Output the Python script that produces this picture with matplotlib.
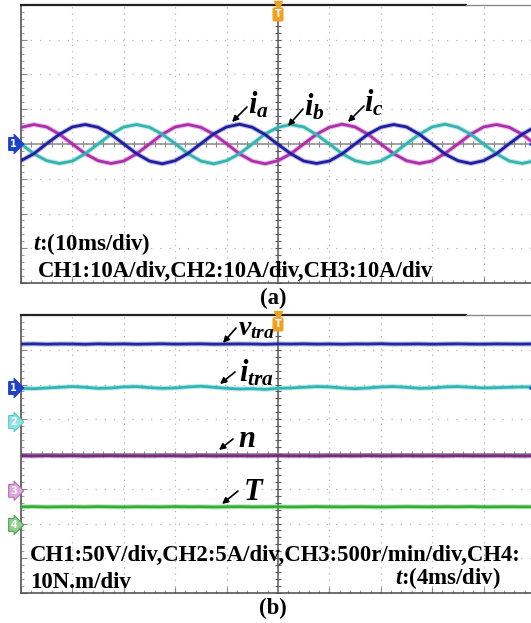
import numpy as np
import matplotlib
matplotlib.use('Agg')
import matplotlib.pyplot as plt
from matplotlib.transforms import blended_transform_factory

plt.rcParams['mathtext.fontset'] = 'custom'
plt.rcParams['mathtext.it'] = 'Liberation Serif:italic:bold'
plt.rcParams['mathtext.rm'] = 'Liberation Serif:bold'
plt.rcParams['mathtext.bf'] = 'Liberation Serif:bold'

W, H = 531, 623

# ---------------- Data: panel (a) phase currents (A), time in ms ----------------
t_a = [0, 2.5, 5, 7.5, 10, 12.5, 15, 17.5, 20, 22.5,
       25, 27.5, 30, 32.5, 35, 37.5, 40, 42.5, 45, 47.5,
       50, 52.5, 55, 57.5, 60, 62.5, 65, 67.5, 70, 72.5,
       75, 77.5, 80, 82.5, 85, 87.5, 90, 92.5, 95, 97.5, 100]
i_a = [-4.8, -2.8, 0.1, 2.8, 4.9, 5.6, 4.8, 2.8, 0.0, -2.8, -4.9, -5.7,
       -4.8, -2.7, 0.1, 2.9, 4.9, 5.7, 4.8, 2.7, -0.1, -2.8, -4.9, -5.6,
       -4.9, -2.8, 0.0, 2.8, 4.8, 5.6, 4.9, 2.8, 0.0, -2.9, -4.8, -5.6,
       -4.8, -2.8, 0.1, 2.8, 4.9]
i_b = [0.0, -2.8, -4.8, -5.6, -4.9, -2.8, 0.0, 2.8, 4.9, 5.6, 4.8, 2.8,
       0.1, -2.8, -4.9, -5.7, -4.8, -2.8, 0.0, 2.9, 4.8, 5.6, 4.9, 2.7,
       0.0, -2.8, -4.8, -5.6, -4.9, -2.8, 0.1, 2.8, 4.9, 5.7, 4.8, 2.8,
       0.0, -2.8, -4.9, -5.6, -4.8]
i_c = [4.8, 5.6, 4.9, 2.8, 0.0, -2.8, -4.8, -5.6, -4.9, -2.8, 0.0, 2.8,
       4.9, 5.6, 4.8, 2.8, 0.1, -2.8, -4.9, -5.7, -4.8, -2.8, 0.0, 2.8,
       4.8, 5.7, 4.9, 2.8, 0.0, -2.8, -4.8, -5.6, -4.9, -2.7, 0.0, 2.8,
       4.9, 5.6, 4.8, 2.8, 0.0]

# ---------------- Data: panel (b), time in ms ----------------
t_b = [0, 1, 2, 3, 4, 5, 6, 7, 8, 9,
       10, 11, 12, 13, 14, 15, 16, 17, 18, 19,
       20, 21, 22, 23, 24, 25, 26, 27, 28, 29,
       30, 31, 32, 33, 34, 35, 36, 37, 38, 39, 40]
v_tra = [63.2, 63.5, 63.0, 63.4, 63.3, 62.9, 63.5, 63.2, 63.4, 63.0,
         63.3, 63.6, 63.1, 63.3, 63.5, 63.0, 63.2, 63.4, 63.3, 62.9,
         63.4, 63.2, 63.5, 63.1, 63.3, 63.0, 63.4, 63.3, 63.6, 63.1,
         63.2, 63.4, 63.0, 63.3, 63.5, 63.2, 63.1, 63.4, 63.3, 63.2, 63.4]
i_tra = [4.85, 4.8, 4.9, 5.0, 5.1, 5.0, 4.85, 4.9, 5.05, 5.1,
         4.95, 4.85, 4.9, 5.05, 5.15, 5.0, 4.85, 4.75, 4.8, 4.7,
         4.85, 4.9, 5.0, 5.1, 5.05, 4.9, 4.8, 4.9, 5.05, 5.1,
         5.0, 4.85, 4.9, 5.05, 5.1, 5.0, 4.9, 4.95, 5.0, 5.05, 5.05]
speed_n = [503, 501, 505, 502, 504, 500, 503, 505, 502, 503,
           501, 504, 503, 500, 505, 502, 503, 504, 501, 503,
           505, 502, 503, 500, 504, 503, 502, 505, 501, 503,
           504, 502, 503, 501, 505, 503, 502, 504, 503, 501, 503]
torque_T = [5.2, 5.25, 5.15, 5.2, 5.22, 5.18, 5.25, 5.2, 5.15, 5.22,
            5.2, 5.18, 5.25, 5.2, 5.22, 5.15, 5.2, 5.24, 5.18, 5.2,
            5.22, 5.16, 5.2, 5.25, 5.2, 5.18, 5.22, 5.2, 5.15, 5.2,
            5.24, 5.2, 5.18, 5.22, 5.2, 5.25, 5.18, 5.2, 5.22, 5.2, 5.2]

# channel settings for (b): scale per division and ground offsets (div)
scale_b = {'CH1': 50, 'CH2': 5, 'CH3': 500, 'CH4': 10}
ground_b = {'CH1': 1.9, 'CH2': 0.92, 'CH3': -1.06, 'CH4': -2.04}

fig = plt.figure(figsize=(W / 100, H / 100), dpi=100)


def fpx(x, y):
    return (x, H - y)


def scope_frame(ax):
    x0, x1 = ax.get_xlim()
    y0, y1 = ax.get_ylim()
    xs = np.linspace(x0, x1, 11)
    ys = np.linspace(y0, y1, 9)
    for x in xs[1:-1]:
        ax.axvline(x, color='#b4b4b4', lw=0.9, ls=(0, (1, 4)), zorder=0)
    for y in ys[1:-1]:
        ax.axhline(y, color='#b4b4b4', lw=0.9, ls=(0, (1, 6.4)), zorder=0)
    xc = 0.5 * (x0 + x1)
    yc = 0.5 * (y0 + y1)
    ax.axvline(xc, color='#5a5a5a', lw=1.1, zorder=1)
    ax.axhline(yc, color='#8a8a8a', lw=1.1, zorder=1)
    mx = np.linspace(x0, x1, 51)
    my = np.linspace(y0, y1, 41)
    ax.plot(mx, np.full_like(mx, yc), ls='none', marker='|', ms=5, mew=0.8, color='#8a8a8a', zorder=1)
    ax.plot(np.full_like(my, xc), my, ls='none', marker='_', ms=5, mew=0.8, color='#5a5a5a', zorder=1)
    for s in ['left', 'bottom']:
        ax.spines[s].set_color('#555555')
        ax.spines[s].set_linewidth(1.2)
    ax.spines['right'].set_visible(False)
    ax.spines['top'].set_visible(False)
    ax.axhline(y1, xmin=0, xmax=0.865, color='#222222', lw=1.6, clip_on=False, zorder=3)
    ax.axhline(y1, xmin=0.865, xmax=1, color='#888888', lw=1.0, clip_on=False, zorder=3)
    ax.set_xticks(xs)
    ax.set_yticks(ys)
    ax.set_xticks(mx, minor=True)
    ax.set_yticks(my, minor=True)
    ax.tick_params(which='both', direction='in', labelbottom=False, labelleft=False,
                   top=False, right=False, color='#888888')
    ax.tick_params(which='major', length=4)
    ax.tick_params(which='minor', length=2.5)
    # trigger marker
    ax.plot([xc], [y1], marker='v', ms=6, color='#f0a020', clip_on=False, zorder=6)
    ax.text(xc, y1 - (y1 - y0) * 0.016, 'T', ha='center', va='top', fontsize=7,
            color='white', fontweight='bold', zorder=7,
            bbox=dict(boxstyle='round,pad=0.15', fc='#f0a020', ec='#f0a020'))


def chan_tag(ax, y, label, fc, ec, tc):
    tr = blended_transform_factory(ax.transAxes, ax.transData)
    ax.text(-0.008, y, label, transform=tr, ha='right', va='center', fontsize=7,
            color=tc, fontweight='bold', clip_on=False, zorder=8,
            bbox=dict(boxstyle='rarrow,pad=0.15', fc=fc, ec=ec, lw=0.8))


def trace(ax, x, y, color):
    ax.plot(x, y, color=color, lw=3.6, alpha=0.3, zorder=4, solid_joinstyle='round')
    ax.plot(x, y, color=color, lw=2.0, zorder=5, solid_joinstyle='round')


# ---------------- Panel (a) ----------------
axa = fig.add_axes([21 / W, 1 - 283 / H, 514 / W, 278 / H])
axa.set_xlim(0, 100)
axa.set_ylim(-40, 40)
scope_frame(axa)
trace(axa, t_a, i_c, '#ab2fab')
trace(axa, t_a, i_b, '#35b3b0')
trace(axa, t_a, i_a, '#1e1e9e')
chan_tag(axa, 0, '1', '#2040c8', '#2040c8', 'white')
axa.plot([100], [0], marker='<', ms=8, color='#2040c8', clip_on=False, zorder=8)

# ---------------- Panel (b) ----------------
axb = fig.add_axes([21 / W, 1 - 593 / H, 514 / W, 278 / H])
axb.set_xlim(0, 40)
axb.set_ylim(-4, 4)
scope_frame(axb)


def to_div(vals, ch):
    return [ground_b[ch] + v / scale_b[ch] for v in vals]


trace(axb, t_b, to_div(v_tra, 'CH1'), '#1c2a9c')
trace(axb, t_b, to_div(i_tra, 'CH2'), '#30b6b6')
trace(axb, t_b, to_div(speed_n, 'CH3'), '#7a2c7c')
trace(axb, t_b, to_div(torque_T, 'CH4'), '#2fb02f')
chan_tag(axb, ground_b['CH1'], '1', '#2040c8', '#2040c8', 'white')
chan_tag(axb, ground_b['CH2'], '2', '#8fe3e3', '#5cc8c8', 'white')
chan_tag(axb, ground_b['CH3'], '3', '#e0a8e0', '#b070b0', 'white')
chan_tag(axb, ground_b['CH4'], '4', '#8fd08f', '#50a050', 'white')
axb.plot([40], [ground_b['CH1']], marker='<', ms=8, color='#2040c8', clip_on=False, zorder=8)

# ---------------- Text ----------------
tfont = dict(family='Liberation Serif', fontweight='bold', fontsize=16.4, color='black')


def ftext(x, y, s, **kw):
    d = dict(tfont)
    d.update(kw)
    fig.text(x / W, 1 - y / H, s, va='baseline', **d)


ftext(33, 250, r'$t$:(10ms/div)')
ftext(38, 277, 'CH1:10A/div,CH2:10A/div,CH3:10A/div')
ftext(273, 304, '(a)', ha='center')
ftext(30, 561, 'CH1:50V/div,CH2:5A/div,CH3:500r/min/div,CH4:')
ftext(30, 588, '10N.m/div')
ftext(395, 584, r'$t$:(4ms/div)')
ftext(273, 614, '(b)', ha='center')

labels = [
    (r'$i_a$', 248, 114, 22, (247, 107), (232, 122)),
    (r'$i_b$', 304, 115, 22, (303, 109), (288, 126)),
    (r'$i_c$', 364, 111, 22, (364, 106), (348, 122)),
    (r'$v_{tra}$', 238, 335, 20, (236, 328), (223, 343)),
    (r'$i_{tra}$', 239, 382, 22, (235, 372), (220, 384)),
    (r'$n$', 238, 447, 22, (233, 439), (219, 450)),
    (r'$T$', 243, 500, 22, (238, 491), (222, 504)),
]
for s, x, y, fs, tail, head in labels:
    fig.text(x / W, 1 - y / H, s, va='baseline', ha='left', fontsize=fs, color='black')
    fig.add_artist(matplotlib.patches.FancyArrowPatch(
        posA=fpx(*tail), posB=fpx(*head), transform=None,
        arrowstyle='-|>', mutation_scale=9, lw=1.2, color='black',
        shrinkA=0, shrinkB=0))

fig.savefig('out.png', dpi=100)
